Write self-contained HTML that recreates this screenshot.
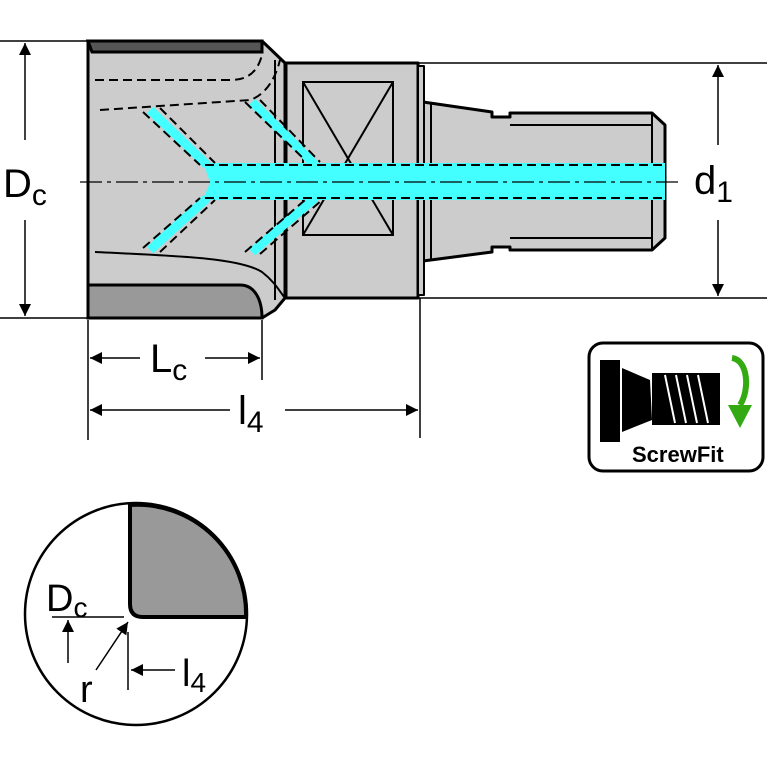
<!DOCTYPE html>
<html><head><style>html,body{margin:0;padding:0;background:#fff}svg{display:block}</style></head><body>
<svg width="767" height="767" viewBox="0 0 767 767" xmlns="http://www.w3.org/2000/svg" font-family="Liberation Sans, sans-serif">
<defs>
<marker id="b" viewBox="0 0 10 10" refX="10" refY="5" markerWidth="18" markerHeight="12" markerUnits="userSpaceOnUse" orient="auto-start-reverse"><path d="M0,0L10,5L0,10z" fill="#000"/></marker></defs>
<g stroke="#000" stroke-width="1.5">
<line x1="0" y1="41" x2="90" y2="41"/><line x1="0" y1="318" x2="90" y2="318"/>
<line x1="415" y1="63" x2="767" y2="63"/><line x1="415" y1="298" x2="767" y2="298"/>
<line x1="88" y1="320" x2="88" y2="440"/><line x1="262" y1="320" x2="262" y2="380"/><line x1="420" y1="298" x2="420" y2="438"/>
</g>
<g stroke="#000" stroke-width="3" fill="#cccccc" stroke-linejoin="round">
<path d="M423,102L492,112L492,117L510,117L510,113L652,113L665,125L665,238L652,250L510,250L510,247L492,247L492,252L423,261z"/>
<rect x="286" y="63" width="132" height="235"/>
<rect x="418" y="66" width="6" height="229" stroke-width="2"/>
<path d="M88,41L262,41L285,63L285,298L275,310L262,318L88,318z"/>
</g>
<g stroke="#000" stroke-width="2" fill="none">
<line x1="510" y1="125" x2="652" y2="125"/><line x1="510" y1="238" x2="652" y2="238"/>
<line x1="652" y1="113" x2="652" y2="250"/><line x1="431" y1="104" x2="431" y2="259"/>
<line x1="275" y1="60" x2="275" y2="300"/>
<rect x="303" y="82" width="90" height="153"/>
<line x1="303" y1="82" x2="393" y2="235"/><line x1="393" y1="82" x2="303" y2="235"/>
<path d="M95,252C180,256 240,258 262,272C275,282 280,292 285,298"/>
</g>
<path d="M88,41L262,41L262,52L92,52z" fill="#555" stroke="#000" stroke-width="3"/>
<path d="M88,318L88,285L240,285C255,285 262,300 262,318z" fill="#999" stroke="#000" stroke-width="3"/>
<g fill="none" stroke="#44ffff" stroke-width="9">
<path d="M150,110L207,165"/><path d="M150,250L207,198"/>
<path d="M252,102L315,165"/><path d="M252,252L315,198"/>
</g>
<path d="M203,163L665,163L665,200L203,200L210,182z" fill="#44ffff"/>
<g fill="none" stroke="#000" stroke-width="2" stroke-dasharray="9,5">
<line x1="205" y1="165" x2="665" y2="165"/><line x1="205" y1="198" x2="665" y2="198"/>
<path d="M143,112L200,165M160,108L215,163"/><path d="M143,248L200,198M160,252L215,200"/>
<path d="M245,102L305,160M260,100L320,162"/><path d="M245,252L305,200M260,254L322,200"/>
<path d="M95,80L230,80C250,80 258,70 262,55"/>
<path d="M100,110L250,100C265,95 275,80 280,60"/>
</g>
<line x1="80" y1="182" x2="680" y2="182" stroke="#000" stroke-width="1.3" stroke-dasharray="22,5,4,5"/>
<g stroke="#000" stroke-width="1.5">
<line x1="25" y1="43" x2="25" y2="140" marker-start="url(#b)"/><line x1="25" y1="220" x2="25" y2="316" marker-end="url(#b)"/>
<line x1="718" y1="65" x2="718" y2="145" marker-start="url(#b)"/><line x1="718" y1="220" x2="718" y2="296" marker-end="url(#b)"/>
<line x1="90" y1="358" x2="140" y2="358" marker-start="url(#b)"/><line x1="205" y1="358" x2="260" y2="358" marker-end="url(#b)"/>
<line x1="90" y1="410" x2="230" y2="410" marker-start="url(#b)"/><line x1="285" y1="410" x2="418" y2="410" marker-end="url(#b)"/>
</g>
<g font-size="40" fill="#000">
<text x="3" y="197">D<tspan font-size="30" dy="8">c</tspan></text>
<text x="694" y="194">d<tspan font-size="30" dy="8">1</tspan></text>
<text x="150" y="372">L<tspan font-size="30" dy="8">c</tspan></text>
<text x="238" y="424">l<tspan font-size="30" dy="8">4</tspan></text>
</g>
<rect x="589" y="343" width="174" height="128" rx="14" fill="#fff" stroke="#000" stroke-width="3"/>
<rect x="600" y="360" width="20" height="82" fill="#000"/>
<path d="M622,368L650,380L652,420L622,432z" fill="#000"/>
<rect x="652" y="373" width="68" height="52" fill="#000"/>
<g stroke="#fff" stroke-width="2"><line x1="665" y1="375" x2="675" y2="423"/><line x1="676" y1="375" x2="686" y2="423"/><line x1="687" y1="375" x2="697" y2="423"/><line x1="698" y1="375" x2="708" y2="423"/></g>
<path d="M732,358C748,360 750,390 740,405" fill="none" stroke="#33aa11" stroke-width="6"/>
<path d="M728,405L752,405L740,428z" fill="#33aa11"/>
<text x="632" y="462" font-size="22" font-weight="bold" fill="#000">ScrewFit</text>
<circle cx="136" cy="614" r="111" fill="#fff" stroke="#000" stroke-width="2.5"/>
<path d="M130,505A109,109 0 0 1 246,617L143,617Q130,617 130,604z" fill="#999" stroke="#000" stroke-width="4"/>
<g stroke="#000" stroke-width="1.5">
<line x1="52" y1="617" x2="124" y2="617"/>
<line x1="68" y1="663" x2="68" y2="620" marker-end="url(#b)"/>
<line x1="96" y1="670" x2="128" y2="622" marker-end="url(#b)"/>
<line x1="128" y1="632" x2="128" y2="690"/>
<line x1="175" y1="670" x2="131" y2="670" marker-end="url(#b)"/>
</g>
<g font-size="38" fill="#000">
<text x="46" y="611">D<tspan font-size="28" dy="6">c</tspan></text>
<text x="80" y="702">r</text>
<text x="182" y="686">l<tspan font-size="28" dy="6">4</tspan></text>
</g>
</svg>
</body></html>
